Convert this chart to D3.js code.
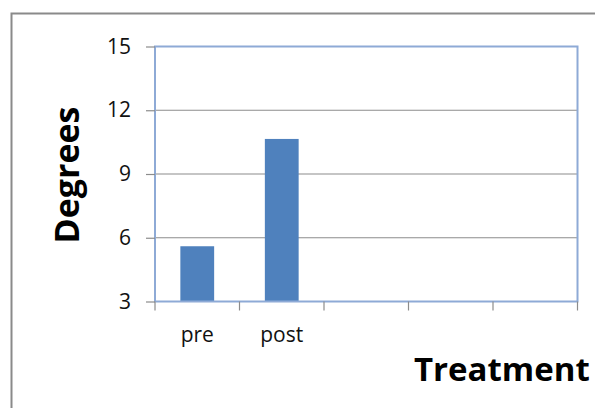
<!DOCTYPE html>
<html>
<head>
<meta charset="utf-8">
<script src="https://cdn.jsdelivr.net/npm/d3@7"></script>
<style>
  html, body { margin: 0; padding: 0; background: #fff; }
  svg { display: block; }
  text { font-family: "Open Sans", "DejaVu Sans", sans-serif; }
</style>
</head>
<body>
<svg id="chart" width="595" height="408"></svg>
<script>
// Treatment slots on the category axis (only the first two hold data)
const categories = ["pre", "post", "", " ", "  "];
const values = [5.6, 10.65, null, null, null];
const yTicks = [3, 6, 9, 12, 15];
const yDomain = [3, 15];

const svg = d3.select("#chart");
const margin = { left: 155, top: 46.5, right: 595 - 577.5, bottom: 408 - 301.5 };
const W = 595, H = 408;

// outer chart frame, running off the right and bottom edges
svg.append("rect")
  .attr("x", 11.5).attr("y", 13.5)
  .attr("width", 620).attr("height", 420)
  .attr("fill", "none").attr("stroke", "#8a8a8a").attr("stroke-width", 2);

const x = d3.scaleBand()
  .domain(categories)
  .range([margin.left, W - margin.right])
  .paddingInner(0.6).paddingOuter(0.3);

const y = d3.scaleLinear().domain(yDomain).range([H - margin.bottom, margin.top]);

// horizontal gridlines
svg.append("g")
  .selectAll("line")
  .data(yTicks.slice(1, -1))
  .join("line")
  .attr("x1", margin.left).attr("x2", W - margin.right)
  .attr("y1", d => y(d)).attr("y2", d => y(d))
  .attr("stroke", "#8c8c8c").attr("stroke-width", 1.2);

// bars
const bw = x.bandwidth();
svg.append("g")
  .selectAll("rect")
  .data(categories.map((c, i) => ({ c, v: values[i] })).filter(d => d.v != null))
  .join("rect")
  .attr("x", d => x(d.c))
  .attr("y", d => y(d.v))
  .attr("width", bw)
  .attr("height", d => y(yDomain[0]) - y(d.v))
  .attr("fill", "#4f81bd");

// plot area frame
svg.append("rect")
  .attr("x", margin.left).attr("y", margin.top)
  .attr("width", W - margin.right - margin.left)
  .attr("height", H - margin.bottom - margin.top)
  .attr("fill", "none").attr("stroke", "#8eaad6").attr("stroke-width", 2);

// y axis
const yAxis = d3.axisLeft(y).tickValues(yTicks).tickSize(9).tickPadding(15);
const gy = svg.append("g").attr("transform", `translate(${margin.left},0)`).call(yAxis);
gy.select(".domain").remove();
gy.selectAll(".tick line").attr("stroke", "#8c8c8c").attr("stroke-width", 1.2);
gy.selectAll(".tick text")
  .attr("font-size", 21).attr("fill", "#111")
  .style("font-family", "'Open Sans', sans-serif");

// x axis: tick marks at category boundaries, labels centred under slots
const bounds = d3.range(categories.length + 1).map(i => margin.left + i * (W - margin.right - margin.left) / categories.length);
svg.append("g")
  .selectAll("line")
  .data(bounds)
  .join("line")
  .attr("x1", d => d).attr("x2", d => d)
  .attr("y1", y(yDomain[0])).attr("y2", y(yDomain[0]) + 9)
  .attr("stroke", "#8c8c8c").attr("stroke-width", 1.2);

svg.append("g")
  .selectAll("text")
  .data(categories.filter(c => c.trim() !== ""))
  .join("text")
  .attr("x", d => x(d) + bw / 2)
  .attr("y", 342)
  .attr("text-anchor", "middle")
  .attr("font-size", 21).attr("fill", "#111")
  .text(d => d);

// axis titles
svg.append("text")
  .attr("x", 414).attr("y", 381)
  .attr("font-size", 33).attr("font-weight", 700).attr("fill", "#000")
  .text("Treatment");

svg.append("text")
  .attr("transform", "translate(79,175) rotate(-90)")
  .attr("text-anchor", "middle")
  .attr("font-size", 34).attr("font-weight", 700).attr("fill", "#000")
  .text("Degrees");
</script>
</body>
</html>
